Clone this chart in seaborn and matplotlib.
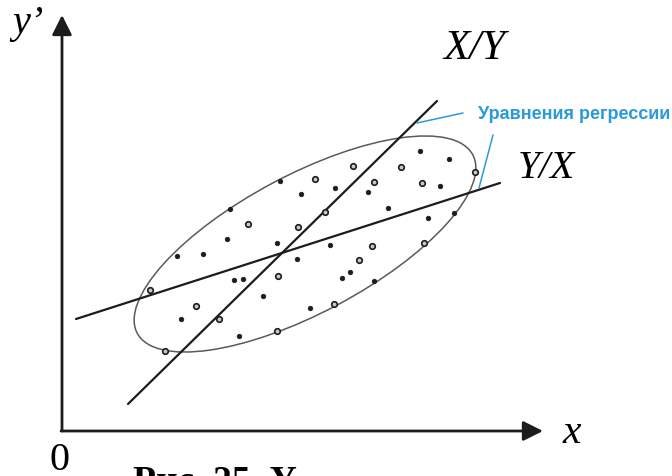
import numpy as np
import pandas as pd
import seaborn as sns
import matplotlib.pyplot as plt
from matplotlib.patches import Ellipse

# точки облака (начало координат в углу осей)
ring_x = [253, 291, 312, 339, 360, 413, 263, 236, 186, 310, 362, 297, 216, 272, 88, 134, 157, 215, 103]
ring_y = [252, 265, 249, 264, 248, 259, 219, 204, 207, 185, 188, 171, 155, 127, 141, 125, 112, 100, 80]
dot_x = [218, 239, 168, 165, 273, 306, 358, 387, 378, 326, 366, 392, 215, 268, 235, 288, 280, 312, 248,
         115, 141, 172, 181, 201, 119, 177]
dot_y = [250, 237, 222, 192, 243, 239, 280, 272, 245, 223, 213, 218, 188, 186, 172, 159, 153, 150, 123,
         175, 177, 151, 152, 135, 112, 95]

# линии регрессии
xy_line_x = [66, 375]
xy_line_y = [27, 330]
yx_line_x = [14, 438]
yx_line_y = [112, 248]

# эллипс рассеяния
ell_center = (243, 187)
ell_w, ell_h, ell_angle = 380, 138, 28

# выноски подписи
lead1_x, lead1_y = [355, 401], [308, 318]
lead2_x, lead2_y = [431, 417], [296, 243]

blue = '#2a9ad8'
ink = '#1c1c1c'

sns.set_theme(style='white')
fig = plt.figure(figsize=(6.72, 4.76), dpi=100)
ax = fig.add_axes([0, 0, 1, 1])
ax.set_xlim(-62, 610)
ax.set_ylim(-45, 431)
ax.axis('off')

# оси со стрелками
arrow = dict(arrowstyle='-|>,head_length=0.6,head_width=0.3', lw=2.0, color=ink,
             shrinkA=0, shrinkB=0, mutation_scale=20)
ax.annotate('', xy=(0, 416), xytext=(0, 0), arrowprops=arrow)
ax.annotate('', xy=(481, 0), xytext=(-1, 0), arrowprops=arrow)

ax.add_patch(Ellipse(ell_center, ell_w, ell_h, angle=ell_angle, fill=False,
                     edgecolor='#5a5a5a', lw=1.1))

sns.lineplot(x=xy_line_x, y=xy_line_y, ax=ax, color=ink, lw=1.6, estimator=None)
sns.lineplot(x=yx_line_x, y=yx_line_y, ax=ax, color=ink, lw=1.6, estimator=None)
sns.lineplot(x=lead1_x, y=lead1_y, ax=ax, color=blue, lw=1.1, estimator=None, sort=False)
sns.lineplot(x=lead2_x, y=lead2_y, ax=ax, color=blue, lw=1.1, estimator=None, sort=False)

sns.scatterplot(x=dot_x, y=dot_y, ax=ax, s=11, color=ink, edgecolor=ink, linewidth=0.5, zorder=5)
sns.scatterplot(x=ring_x, y=ring_y, ax=ax, s=16, color='#c8c8c8', edgecolor=ink, linewidth=1.2, zorder=5)

serif = dict(family='Liberation Serif', style='italic', color='black')
ax.text(-50, 398, 'y\u2019', fontsize=29, **serif)
ax.text(501, -12, 'x', fontsize=30, **serif)
ax.text(381, 372, 'X/Y', fontsize=31, **serif)
ax.text(456, 253, 'Y/X', fontsize=28.5, **serif)
ax.text(-12, -39, '0', fontsize=29, family='Liberation Serif', color='black')
# подпись рисунка обрезана нижним краем, как в оригинале
ax.text(71, -61, 'Рис. 25. У', fontsize=27, family='Liberation Serif', weight='bold', color='black')
ax.text(416, 312, 'Уравнения регрессии', fontsize=13, family='Liberation Sans', weight='bold',
        color=blue)

fig.savefig('out.png', dpi=100)
